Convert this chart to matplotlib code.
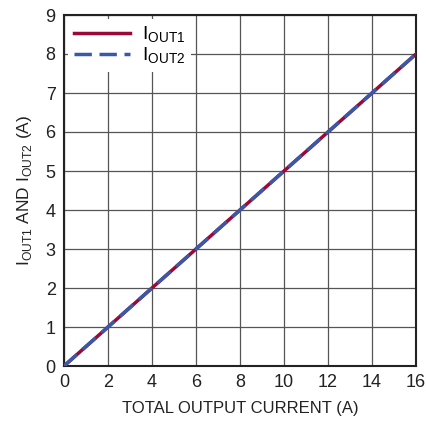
import matplotlib
matplotlib.use("Agg")
import matplotlib.pyplot as plt
from matplotlib import font_manager

names = {f.name for f in font_manager.fontManager.ttflist}
fam = "Liberation Sans Narrow" if "Liberation Sans Narrow" in names else "Liberation Sans"
plt.rcParams['font.family'] = [fam, 'DejaVu Sans']
plt.rcParams['mathtext.fontset'] = 'custom'
plt.rcParams['mathtext.rm'] = fam

total_current = [0, 2, 4, 6, 8, 10, 12, 14, 16]
iout1 = [0, 1, 2, 3, 4, 5, 6, 7, 8]
iout2 = [0, 1, 2, 3, 4, 5, 6, 7, 8]

fig = plt.figure(figsize=(4.27, 4.23), dpi=100)
ax = fig.add_axes([64/427, 1-366/423, (416-64)/427, (366-15)/423])

ax.plot(total_current, iout1, color='#9b0a37', lw=2.5, label=r'I$_{\mathregular{OUT1}}$', zorder=3)
ax.plot(total_current, iout2, color='#3a58a8', lw=2.5, dashes=(5, 2.2), label=r'I$_{\mathregular{OUT2}}$', zorder=4)

ax.set_xlim(0, 16)
ax.set_ylim(0, 9)
ax.set_xticks(range(0, 17, 2))
ax.set_yticks(range(0, 10))
ax.grid(True, color='#555555', lw=0.9)
ax.set_axisbelow(True)
for s in ax.spines.values():
    s.set_linewidth(1.5)
    s.set_color('#222222')
ax.tick_params(length=0, labelsize=13, pad=6, colors='#222222')
ax.set_xlabel('TOTAL OUTPUT CURRENT (A)', fontsize=12, color='#222222', labelpad=7)
ax.set_ylabel(r'I$_{\mathregular{OUT1}}$ AND I$_{\mathregular{OUT2}}$ (A)', fontsize=12.5, color='#222222', labelpad=8)

leg = ax.legend(loc='upper left', fontsize=14, frameon=True, fancybox=False, framealpha=1,
                edgecolor='none', borderpad=0.3, handlelength=2.9, handletextpad=0.6,
                labelspacing=0.05, borderaxespad=0.2)
leg.get_frame().set_linewidth(0)

fig.savefig('out.png', dpi=100)
